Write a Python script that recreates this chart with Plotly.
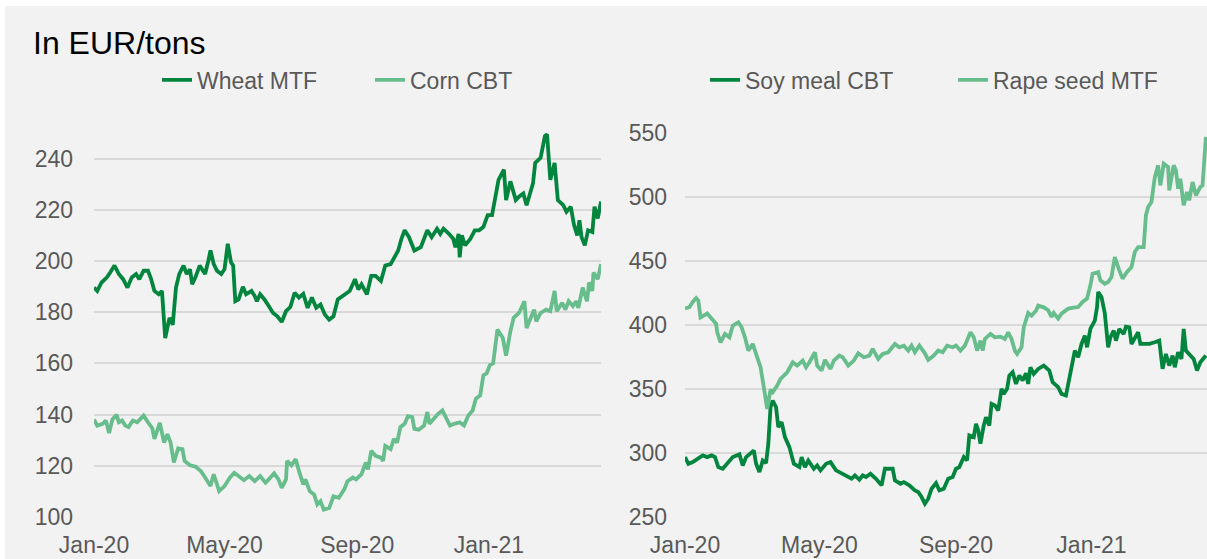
import pandas as pd
import plotly.graph_objects as go

# ---------------- data (days since 2020-01-01, EUR/t) ----------------
start_date = "2020-01-01"

wheat_days = [0,3,7,12,15,19,23,27,31,35,39,42,46,50,53,56,60,63,66,70,73,76,79,83,86,89,91,94,98,103,
              106,108,111,114,118,121,124,127,129,131,134,138,141,146,149,151,154,158,162,166,170,174,178,182,186,190,194,198,202,206,
              210,214,218,222,226,230,233,237,242,245,248,253,257,261,266,270,275,278,282,285,288,292,297,303,306,309,313,318,321,324,
              329,333,335,338,339,341,344,349,353,357,361,365,369,372,375,380,382,386,391,394,398,401,405,407,409,414,418,420,423,427,
              430,435,438,442,445,448,450,452,455,458,462,464,467,470]
wheat_mtf = [189.6,188.3,191.6,193.6,195.5,198.2,194.9,192.9,189.6,193.6,194.9,192.9,196.2,196.2,192.9,188.3,187,188.3,169.9,177.8,
             175.1,189.6,194.9,198.2,194.9,196.8,190.9,193.6,198.2,194.9,200.1,204.1,198.8,196.2,194.9,196.8,206.7,199.5,198.2,184.3,
             185,189.9,187,188.3,186.3,184.3,187,185,182.4,179.7,178.4,176.2,180.4,182,187.6,185.7,187.2,181.7,185.7,181.7,
             183,179.1,177.1,178.4,185,186.3,187,188.3,192.9,188.9,190.9,187,194.2,194.2,192.2,198.2,198.8,200.8,204.1,208.7,
             212,209.3,204.1,205.4,209.1,212,209.3,212.6,210.6,212.6,210.6,208.7,205.4,210.6,201.4,210,206.1,208.7,212,212,
             213.3,217.9,217.9,225.1,231.7,235.7,223.8,231.1,223.8,225.1,226.4,221.8,227.8,230.4,238.3,240.3,248.8,249.5,231.7,238.3,
             223.8,221.8,219.2,221.2,214,210,215.9,209.3,206.1,212,211.3,221.2,216.6,223.2]

corn_days = [0,3,8,11,14,17,21,23,26,29,32,36,40,43,46,50,54,56,61,65,68,71,74,78,82,84,89,94,99,103,
             108,111,116,121,126,130,134,139,144,149,154,159,162,167,171,174,178,179,183,187,190,194,196,200,204,207,210,213,218,222,
             227,232,235,240,243,248,252,254,257,261,266,268,270,275,278,281,284,288,291,295,297,301,306,309,311,315,319,323,326,330,
             334,339,343,347,351,354,358,361,364,367,370,374,379,382,386,389,394,399,401,405,408,410,414,419,423,427,429,434,437,440,
             444,447,449,453,457,459,462,463,467,470]
corn_cbt = [138.1,135.7,136.4,137.7,132.8,138.1,139.9,137,137.7,135.7,135.1,137.7,137,138.3,139.6,137,134.7,130.5,136.8,129.1,
            132.4,129.1,121.3,126.8,126.5,121.9,120.2,119.7,118,115.4,112.1,116.7,110.1,112.1,115.4,117.3,116,114.4,116,114,
            116,113.4,114.7,117.1,114.7,111.4,114.7,121.9,120.2,122.6,118,112.7,114.7,110.1,108.8,104.9,106.2,102.9,103.5,108.1,
            107.5,110.8,114,115.4,114.7,116.7,121.3,118.6,125.9,123.9,123.2,121.9,127.8,126.5,130.5,129.1,135.1,136.4,139.4,139,
            134.4,134.1,135.7,141,136.4,138.3,140.3,141.6,139,135.7,136.4,137,135.7,139.6,141.6,146.2,147.5,155.4,156.1,159.3,
            160,173.2,169.9,163,172.5,177.8,179.7,184.3,173.8,177.8,181,176.4,179.7,181,180.4,188.3,180.4,183.7,181,184.3,
            182.4,184.3,181.7,189.6,184.3,191.6,188.3,195.5,192.9,198.8]

soy_days = [0,3,7,12,16,20,24,27,30,34,39,43,49,52,55,58,62,64,67,70,73,75,77,79,82,84,87,90,94,98,
            103,105,108,111,116,119,122,127,131,136,141,145,150,153,157,160,163,167,172,177,180,183,187,189,194,197,202,207,210,213,
            216,219,222,226,229,233,237,241,244,247,251,254,256,260,262,264,266,269,271,274,276,279,282,285,287,290,292,295,298,301,
            304,307,309,311,314,318,323,328,331,336,339,343,346,348,351,354,357,360,362,365,369,371,372,375,378,381,383,386,388,391,
            395,397,400,402,405,408,410,414,418,423,427,430,433,436,439,441,444,447,449,451,454,458,461,464,469]
soy_meal_cbt = [296.8,291.6,292.9,295.5,298.1,296.8,298.1,296.8,289,287.7,292.9,296.8,298.9,290.3,296.8,298.9,302,291.6,285.1,294.2,
                292.1,307.2,335.8,341,335.8,320.2,324.1,312.4,304.6,291.6,289,296.8,289,294.2,287.7,290.3,286.4,291.6,292.9,286.4,
                283.8,282.5,279.9,282.5,279.1,282.5,281.2,283.8,279.9,274.7,287.7,287.7,287.7,278.6,276,277.3,274.7,270.8,269.5,265.6,
                260.4,264.3,272.1,276.5,270.8,272.1,279.9,281.2,287.7,289,296.8,294.2,313.7,312.4,322.8,317.6,307.2,321.5,328,321.5,
                338.4,337.1,333.2,350.1,346.2,350.1,360.5,363.1,354,360.5,356.6,362.3,354,367,361.8,365.7,368.3,364.4,355.3,351.4,
                346.2,344.9,359.2,368.3,380,374.8,385.2,391.7,382.6,396.9,403.4,414,425.8,421.9,409,382.6,390.4,395.6,387.8,396.9,
                393,398.7,398.2,385.2,390.4,394.3,385.2,385.2,385.2,386.5,387.8,365.7,377.4,368.3,376.1,367,378.7,373.5,396.9,380,
                377.4,373.5,364.4,370.9,376.1]

rape_days = [0,4,7,10,12,14,20,25,28,29,32,36,40,43,48,51,54,57,61,64,68,70,72,74,77,79,83,86,89,92,
             97,101,106,109,112,117,119,123,126,131,134,139,142,147,152,156,161,166,169,174,178,183,189,193,197,201,204,207,211,216,
             219,224,228,232,236,241,244,248,252,255,257,260,263,266,268,270,275,279,284,288,291,294,297,299,303,305,309,312,316,318,
             323,327,330,332,336,339,345,350,354,358,362,365,367,372,374,378,381,384,387,391,394,398,402,405,408,413,415,417,420,423,
             426,428,431,435,436,440,442,444,446,449,452,454,457,460,464,466,469]
rape_seed_mtf = [413,414,418,421,419,406,409,404,401,394.3,386.5,393,390.4,399.5,402.1,398.2,390.4,380,385.2,377.4,
                 367,356.6,346.2,334.5,349.3,347.5,352.7,357.9,360.5,363.1,370.9,368.3,372.2,367,370.9,378.7,368.3,364.4,372.7,365.7,
                 372.2,376.1,374.8,368.3,372.2,377.9,374.8,376.1,381.3,373.5,377.4,378.7,385.2,382.6,383.9,380,383.9,378.7,383.9,377.9,
                 372.7,376.1,380,378.7,383.9,382.6,383.9,380,383.9,390.4,394.3,390.4,380,387.8,380,389.1,393,390.4,390.9,389.1,
                 394.3,389.1,380,377.4,382.6,398.2,409.4,407.3,411.2,415.1,413.8,411.5,406.3,409.4,405,408.9,412.8,413.5,414,418,
                 420.6,431,440.1,441.4,434.9,432.3,433.6,437.5,453.1,442.7,436.2,441.4,445.3,457,460.9,460.9,485.7,492.2,496.1,515.6,
                 524.7,509.1,526,523.4,505.2,524.7,520.8,506.5,514.3,493.5,503.9,497.4,511.7,501.3,507.8,509.1,546.9]

left_ticks = [100, 120, 140, 160, 180, 200, 220, 240]
right_ticks = [250, 300, 350, 400, 450, 500, 550]
x_ticks = ["2020-01-01", "2020-05-01", "2020-09-01", "2021-01-01"]
x_range = ["2020-01-01", "2021-04-15"]


def to_dates(days):
    return pd.Timestamp(start_date) + pd.to_timedelta(days, unit="D")


DARK = "rgb(0,133,62)"
LIGHT = "rgb(104,189,140)"
FONT = "Liberation Sans, Arial, sans-serif"
W, H = 1207, 559
LW = 3.8

fig = go.Figure()
fig.add_trace(go.Scatter(x=to_dates(wheat_days), y=wheat_mtf, name="Wheat MTF", mode="lines",
                         line=dict(color=DARK, width=LW), xaxis="x", yaxis="y", legend="legend"))
fig.add_trace(go.Scatter(x=to_dates(corn_days), y=corn_cbt, name="Corn CBT", mode="lines",
                         line=dict(color=LIGHT, width=LW), xaxis="x", yaxis="y", legend="legend"))
fig.add_trace(go.Scatter(x=to_dates(soy_days), y=soy_meal_cbt, name="Soy meal CBT", mode="lines",
                         line=dict(color=DARK, width=LW), xaxis="x2", yaxis="y2", legend="legend2"))
fig.add_trace(go.Scatter(x=to_dates(rape_days), y=rape_seed_mtf, name="Rape seed MTF", mode="lines",
                         line=dict(color=LIGHT, width=LW), xaxis="x2", yaxis="y2", legend="legend2"))

xcommon = dict(type="date", range=x_range, tickvals=x_ticks, tickformat="%b-%y", showgrid=False,
               showline=False, zeroline=False, ticks="", tickfont=dict(family=FONT, size=23, color="#595959"),
               ticklabelstandoff=12, automargin=False)
ycommon = dict(showgrid=True, gridcolor="#D9D9D9", gridwidth=1.5, showline=False, zeroline=False, ticks="",
               tickfont=dict(family=FONT, size=23, color="#595959"), automargin=False)

y_dom = [(H - 517) / H, (H - 133) / H]

fig.update_layout(
    width=W, height=H,
    margin=dict(l=0, r=0, t=0, b=0),
    paper_bgcolor="white",
    plot_bgcolor="rgba(0,0,0,0)",
    font=dict(family=FONT, color="#595959"),
    xaxis=dict(domain=[94 / W, 601 / W], anchor="y", **xcommon),
    yaxis=dict(domain=y_dom, anchor="x", range=[100, 250], tickvals=left_ticks, ticklabelstandoff=20, **ycommon),
    xaxis2=dict(domain=[685 / W, 1.0], anchor="y2", **xcommon),
    yaxis2=dict(domain=y_dom, anchor="x2", range=[250, 550], tickvals=right_ticks, ticklabelstandoff=17, **ycommon),
    legend=dict(orientation="h", x=157 / W, xanchor="left", y=(H - 80) / H, yanchor="middle",
                font=dict(family=FONT, size=23, color="#595959"), bgcolor="rgba(0,0,0,0)",
                entrywidth=168, entrywidthmode="pixels", itemclick=False),
    legend2=dict(orientation="h", x=705 / W, xanchor="left", y=(H - 80) / H, yanchor="middle",
                 font=dict(family=FONT, size=23, color="#595959"), bgcolor="rgba(0,0,0,0)",
                 entrywidth=203, entrywidthmode="pixels", itemclick=False),
    shapes=[dict(type="rect", xref="paper", yref="paper", x0=5 / W, x1=1, y0=0, y1=(H - 6) / H,
                 fillcolor="#F2F2F2", line=dict(width=0), layer="below")],
    annotations=[dict(text="In EUR/tons", xref="paper", yref="paper", x=31 / W, y=(H - 43) / H,
                      xanchor="left", yanchor="middle", showarrow=False,
                      font=dict(family=FONT, size=32, color="#000000"))],
    showlegend=True,
)

fig.write_html("out.html", config={"displayModeBar": False},
               post_script="document.body.style.margin='0';document.body.style.overflow='hidden';")
